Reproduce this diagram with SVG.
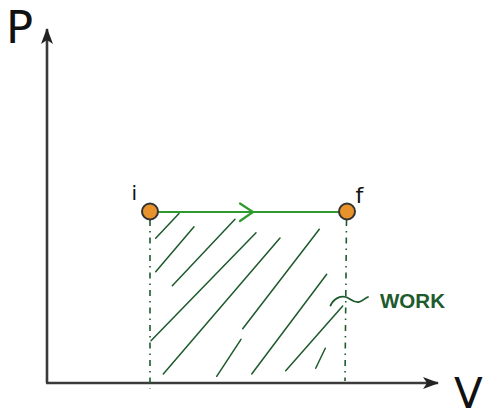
<svg xmlns="http://www.w3.org/2000/svg" width="487" height="418" viewBox="0 0 487 418">
<style>
.axis{stroke:#3a3a3a;stroke-width:2.6;fill:none}
.lbl{font-family:"DejaVu Sans",sans-serif;fill:#111}
.hatch{stroke:#1d5a2c;stroke-width:1.5;fill:none;stroke-linecap:round}
.dash{stroke:#1d5a2c;stroke-width:1.6;fill:none;stroke-dasharray:6 5 1.5 5}
.pt{fill:#e8922b;stroke:#333;stroke-width:2}
</style>
<defs>
<marker id="ah" viewBox="0 0 16 12" refX="15" refY="6" markerWidth="16" markerHeight="12" markerUnits="userSpaceOnUse" orient="auto">
<path d="M0,0 L16,6 L0,12 L4,6 Z" fill="#222"/>
</marker>
</defs>
<g id="axes">
<line class="axis" x1="47" y1="383" x2="47" y2="29" marker-end="url(#ah)"/>
<line class="axis" x1="46" y1="383" x2="438" y2="383" marker-end="url(#ah)"/>
<text class="lbl" x="6" y="43" font-size="45">P</text>
<text class="lbl" x="454" y="408" font-size="42">V</text>
</g>
<g id="hatching">
<path class="hatch" d="M155.7,238.3 L179,213.5"/>
<path class="hatch" d="M155.7,271.7 L194,226.7"/>
<path class="hatch" d="M172.3,285.7 L235,219.3"/>
<path class="hatch" d="M151,340.7 L256,232.7"/>
<path class="hatch" d="M163.3,374 L280,238"/>
<path class="hatch" d="M242.7,328.7 L319.3,229.3"/>
<path class="hatch" d="M216.7,376.3 L241,339.3"/>
<path class="hatch" d="M251.7,374 L326.7,274.3"/>
<path class="hatch" d="M285.7,370.7 L342.7,306"/>
<path class="hatch" d="M315.7,368.3 L325.3,348.3"/>
</g>
<g id="connectors">
<line class="dash" x1="150" y1="220" x2="150" y2="389"/>
<line class="dash" x1="346.5" y1="220" x2="345" y2="381"/>
<line x1="150" y1="212" x2="347" y2="212" stroke="#2e9a2e" stroke-width="2"/>
<path d="M240,203.5 L253,212 L240,221" stroke="#2e9a2e" stroke-width="2.2" fill="none" stroke-linecap="round"/>
</g>
<g id="node-i">
<circle class="pt" cx="150" cy="211.5" r="8"/>
<text class="lbl" x="131.5" y="200" font-size="20">i</text>
</g>
<g id="node-f">
<circle class="pt" cx="347" cy="211.5" r="8"/>
<text class="lbl" x="355.5" y="203" font-size="22">f</text>
</g>
<g id="work-label">
<path d="M330.5,305.5 C334,298 341,295.5 346,297 C351,299 354,303 359,302 C363,301 365,298 368,297" stroke="#1d5a2c" stroke-width="1.8" fill="none" stroke-linecap="round"/>
<text x="380" y="308" font-family="'Liberation Sans',sans-serif" font-size="21" font-weight="bold" fill="#1d5a2c" textLength="65" lengthAdjust="spacingAndGlyphs">WORK</text>
</g>
</svg>
